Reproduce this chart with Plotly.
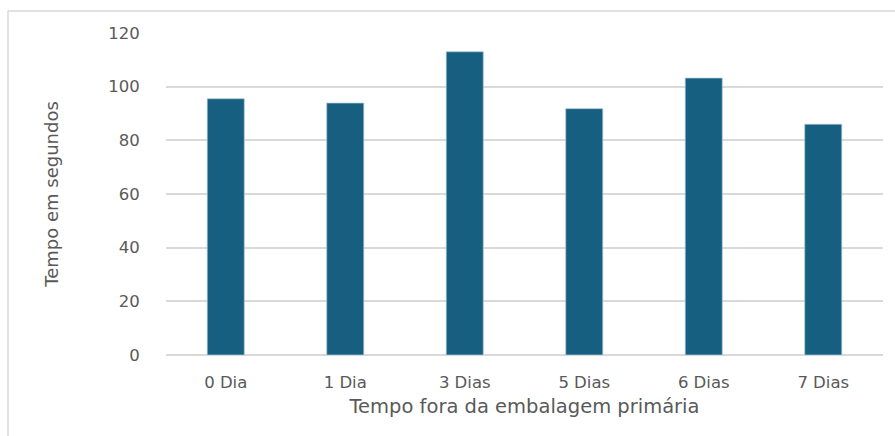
import plotly.graph_objects as go

categories = ["0 Dia", "1 Dia", "3 Dias", "5 Dias", "6 Dias", "7 Dias"]
values = [95.5, 93.9, 113.0, 91.8, 103.2, 86.0]
y_ticks = [0, 20, 40, 60, 80, 100, 120]

W, H = 895, 436
L, R, T, B = 166, 12, 33, 81

fig = go.Figure(go.Bar(
    x=categories, y=values,
    marker=dict(color="#165F80", line=dict(color="rgba(170,200,215,0.9)", width=0.8)),
))

font_family = "DejaVu Sans, Verdana, sans-serif"
fig.update_layout(
    width=W, height=H,
    margin=dict(l=L, r=R, t=T, b=B, pad=0),
    paper_bgcolor="white", plot_bgcolor="white",
    bargap=0.69,
    showlegend=False,
    font=dict(family=font_family, color="#595959"),
    xaxis=dict(
        title=dict(text="Tempo fora da embalagem primária", font=dict(size=19.5, color="#595959"), standoff=8),
        tickfont=dict(size=16.5, color="#595959"),
        showgrid=False, showline=False, zeroline=False,
        ticks="outside", ticklen=12, tickcolor="rgba(0,0,0,0)",
    ),
    yaxis=dict(
        range=[0, 120], tickvals=y_ticks,
        tickfont=dict(size=16.5, color="#595959"),
        showgrid=True, gridcolor="#D9D9D9", gridwidth=1.5,
        zeroline=True, zerolinecolor="#D9D9D9", zerolinewidth=1.5,
        showline=False,
        ticks="outside", ticklen=22, tickcolor="rgba(0,0,0,0)",
        title=dict(text="Tempo em segundos", font=dict(size=18, color="#595959"), standoff=44),
    ),
)

pw = W - L - R
ph = H - T - B
x_left = (8 - L) / pw
y_top = 1 + (T - 11) / ph
fig.add_shape(type="line", xref="paper", yref="paper", x0=x_left, x1=(W + 5 - L) / pw, y0=y_top, y1=y_top,
              line=dict(color="#D9D9D9", width=1.5))
fig.add_shape(type="line", xref="paper", yref="paper", x0=x_left, x1=x_left, y0=y_top, y1=-(B + 5) / ph,
              line=dict(color="#D9D9D9", width=1.5))

fig.write_html("out.html")
